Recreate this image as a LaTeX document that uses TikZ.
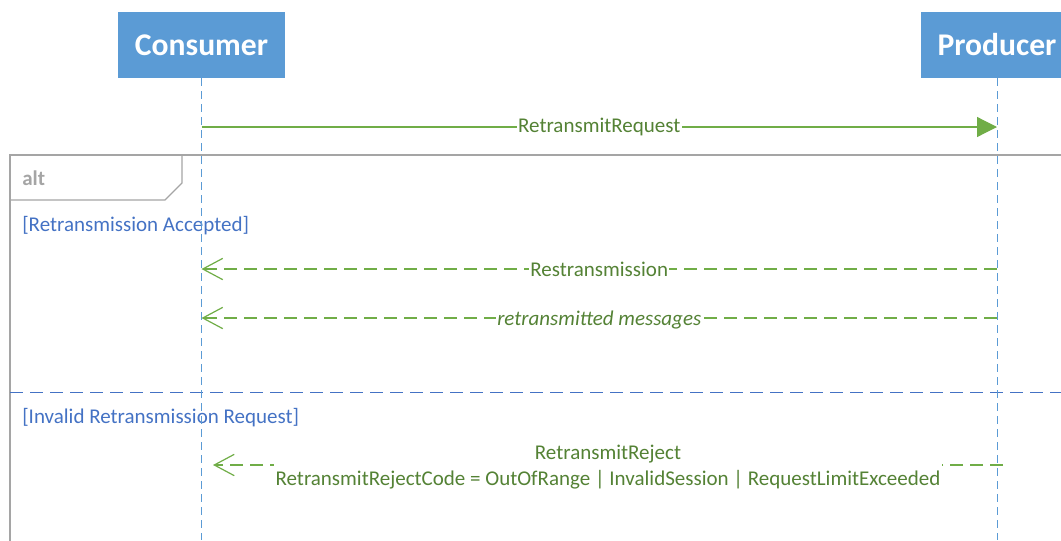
\documentclass[tikz,border=0pt]{standalone}
\usepackage{fontspec}
\setmainfont{Carlito}
\usetikzlibrary{arrows.meta}
\definecolor{hdrblue}{HTML}{5B9BD5}
\definecolor{msggreen}{HTML}{70AD47}
\definecolor{txtgreen}{HTML}{548235}
\definecolor{grdblue}{HTML}{4472C4}
\definecolor{frmgray}{HTML}{A5A5A5}
\newcommand\msgfont{\fontsize{15.75}{19.5}\selectfont}
\tikzset{
  actor/.style={fill=hdrblue, text=white, font=\fontsize{23.7}{28}\selectfont\bfseries,
    inner xsep=12.75pt, inner ysep=0pt, minimum height=49.5pt},
  lifeline/.style={draw=hdrblue, line width=0.75pt, dash pattern=on 6pt off 3.75pt},
  msg/.style={draw=msggreen, line width=0.9pt},
  reply/.style={msg, dash pattern=on 9.75pt off 5.25pt},
  msglabel/.style={text=txtgreen, fill=white, inner sep=1pt, font=\msgfont, align=center},
  guard/.style={text=grdblue, anchor=west, inner sep=0pt, font=\msgfont},
  frame/.style={draw=frmgray, line width=0.9pt},
}
\begin{document}
\begin{tikzpicture}[x=0.75pt,y=-0.75pt]
    \useasboundingbox (0,0) rectangle (1061,540);
    % alt frame
    \draw[frame] (10,155) rectangle (1085,560);
    \draw[frame] (10,200) -- (165,200) -- (182,183) -- (182,155);
    \node[anchor=west, inner sep=0pt, text=frmgray, font=\msgfont\bfseries] (alt) at (22,178) {alt};
    \node[guard] (acc) at (22,226) {[Retransmission Accepted]};
    \draw[draw=grdblue, line width=0.75pt, dash pattern=on 9.75pt off 5.25pt] (10,392) -- (1061,392);
    \node[guard] (inv) at (22,418) {[Invalid Retransmission Request]};
    %
    % actors and lifelines
    \node[actor] (con) at (201.5,45) {Consumer};
    \node[actor] (pro) at (997,45) {Producer};
    \coordinate (conEnd) at (201.5,540);
    \coordinate (proEnd) at (997,540);
    \draw[lifeline] (con.south) -- (conEnd);
    \draw[lifeline] (pro.south) -- (proEnd);
    %
    % messages
    \coordinate (cReq) at (201.5,127); \coordinate (pReq) at (997,127);
    \draw[msg, -{Triangle[length=15pt,width=15pt]}] (cReq) -- node[msglabel] (req) {RetransmitRequest} (pReq);
    %
    \coordinate (cRetr) at (201.5,269); \coordinate (pRetr) at (997,269);
    \draw[reply, -{Straight Barb[length=15pt,width=16pt]}] (pRetr) -- node[msglabel] (retr) {Restransmission} (cRetr);
    %
    \coordinate (cMsgs) at (201.5,318); \coordinate (pMsgs) at (997,318);
    \draw[reply, -{Straight Barb[length=15pt,width=16pt]}] (pMsgs) -- node[msglabel, font=\msgfont\itshape, yshift=-1.5pt] (msgs) {retransmitted messages} (cMsgs);
    %
    \coordinate (cRej) at (213,465); \coordinate (pRej) at (1003,465);
    \draw[reply, -{Straight Barb[length=15pt,width=16pt]}] (pRej) -- node[msglabel, yshift=-1.5pt] (rej) {RetransmitReject\\RetransmitRejectCode = OutOfRange | InvalidSession | RequestLimitExceeded} (cRej);
\end{tikzpicture}
\end{document}
